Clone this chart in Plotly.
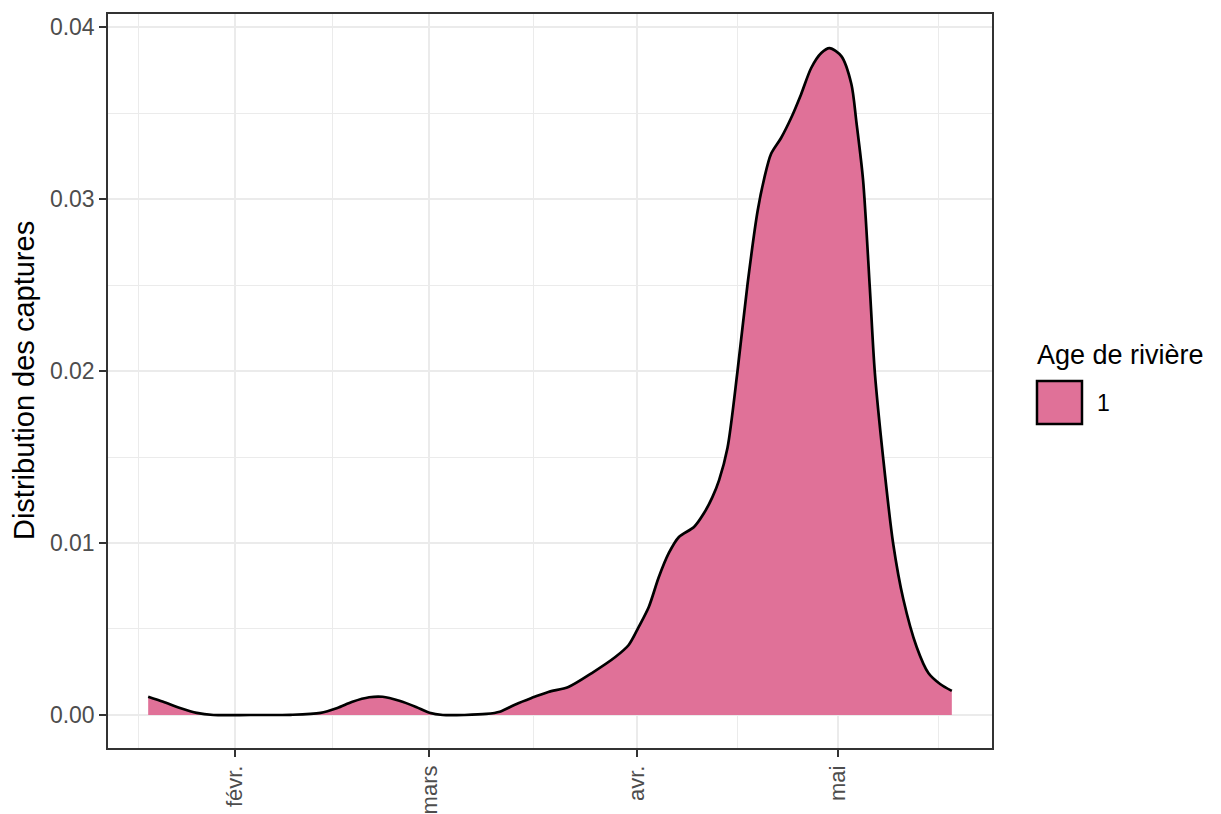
import plotly.graph_objects as go

# ---- data ----
capture_dates = [
    "2024-01-19 00:00", "2024-01-21 06:00", "2024-01-23 18:00", "2024-01-26 06:00",
    "2024-01-28 18:00", "2024-02-03 06:00", "2024-02-09 06:00", "2024-02-13 18:00",
    "2024-02-16 06:00", "2024-02-18 12:00", "2024-02-21 00:00", "2024-02-23 00:00",
    "2024-02-25 12:00", "2024-02-28 00:00", "2024-03-01 00:00", "2024-03-03 00:00",
    "2024-03-06 06:00", "2024-03-09 12:00", "2024-03-11 12:00", "2024-03-13 18:00",
    "2024-03-16 06:00", "2024-03-18 18:00", "2024-03-21 18:00", "2024-03-25 06:00",
    "2024-03-28 18:00", "2024-03-30 18:00", "2024-04-01 06:00", "2024-04-02 18:00",
    "2024-04-04 06:00", "2024-04-05 18:00", "2024-04-07 06:00", "2024-04-09 12:00",
    "2024-04-11 00:00", "2024-04-12 06:00", "2024-04-13 06:00", "2024-04-14 12:00",
    "2024-04-16 00:00", "2024-04-17 12:00", "2024-04-19 00:00", "2024-04-20 00:00",
    "2024-04-21 00:00", "2024-04-22 12:00", "2024-04-24 00:00", "2024-04-25 12:00",
    "2024-04-27 00:00", "2024-04-28 12:00", "2024-04-29 18:00", "2024-05-01 12:00",
    "2024-05-03 00:00", "2024-05-03 18:00", "2024-05-04 18:00", "2024-05-05 18:00",
    "2024-05-06 12:00", "2024-05-07 18:00", "2024-05-09 06:00", "2024-05-10 18:00",
    "2024-05-12 18:00", "2024-05-14 12:00", "2024-05-16 06:00", "2024-05-18 00:00",
]
density = [
    0.00106, 0.00077, 0.00041, 0.00012,
    0.00000, 0.00000, 0.00001, 0.00012,
    0.00041, 0.00077, 0.00103, 0.00106,
    0.00083, 0.00047, 0.00013, 0.00000,
    0.00000, 0.00006, 0.00019, 0.00060,
    0.00099, 0.00134, 0.00163, 0.00244,
    0.00337, 0.00407, 0.00512, 0.00628,
    0.00802, 0.00942, 0.01035, 0.01093,
    0.01174, 0.01267, 0.01366, 0.01552,
    0.02000, 0.02506, 0.02930, 0.03122,
    0.03262, 0.03355, 0.03471, 0.03610,
    0.03762, 0.03849, 0.03878, 0.03831,
    0.03669, 0.03448, 0.03110, 0.02488,
    0.01994, 0.01494, 0.00994, 0.00674,
    0.00395, 0.00244, 0.00180, 0.00140,
]

month_ticks = ["2024-02-01", "2024-03-01", "2024-04-01", "2024-05-01"]
month_labels = ["févr.", "mars", "avr.", "mai"]
minor_x_ticks = ["2024-01-17 12:00", "2024-02-15 12:00", "2024-03-16 12:00",
                 "2024-04-16 00:00", "2024-05-16 00:00"]
y_ticks = [0.00, 0.01, 0.02, 0.03, 0.04]
y_labels = ["0.00", "0.01", "0.02", "0.03", "0.04"]
minor_y_ticks = [0.005, 0.015, 0.025, 0.035]

y_title = "Distribution des captures"
legend_title = "Age de rivière"
legend_label = "1"

FILL = "rgb(224,113,152)"
GRID = "#EBEBEB"
FONT = "Liberation Sans, Arial, sans-serif"

fig = go.Figure()
fig.add_trace(go.Scatter(
    x=capture_dates, y=density, mode="lines",
    line=dict(color="black", width=2.7, shape="spline", smoothing=0.8),
    fill="tozeroy", fillcolor=FILL, showlegend=False, hoverinfo="x+y",
))

# the page body adds an 8px offset, so the figure is 8px smaller on each axis
fig.update_layout(
    width=1213, height=806,
    margin=dict(l=100, r=229, t=6, b=66),
    paper_bgcolor="white", plot_bgcolor="white",
    font=dict(family=FONT, color="#4D4D4D"),
    xaxis=dict(
        type="date", range=["2024-01-13", "2024-05-24"], automargin=False,
        tickmode="array", tickvals=month_ticks, ticktext=month_labels,
        tickangle=-90, tickfont=dict(size=22, color="#4D4D4D", family=FONT),
        ticks="outside", ticklen=7, tickwidth=1.5, tickcolor="#333333",
        showgrid=True, gridcolor=GRID, gridwidth=2,
        minor=dict(tickmode="array", tickvals=minor_x_ticks, showgrid=True,
                   gridcolor=GRID, gridwidth=1, ticks=""),
        showline=True, linecolor="#333333", linewidth=1.5, mirror=True,
        zeroline=False, ticklabelstandoff=0,
    ),
    yaxis=dict(
        range=[-0.00192, 0.04076], automargin=False,
        tickmode="array", tickvals=y_ticks, ticktext=y_labels,
        tickfont=dict(size=23, color="#4D4D4D", family=FONT),
        ticks="outside", ticklen=7, tickwidth=1.5, tickcolor="#333333",
        showgrid=True, gridcolor=GRID, gridwidth=2,
        minor=dict(tickmode="array", tickvals=minor_y_ticks, showgrid=True,
                   gridcolor=GRID, gridwidth=1, ticks=""),
        showline=True, linecolor="#333333", linewidth=1.5, mirror=True,
        zeroline=False, ticklabelstandoff=0,
    ),
)

# y-axis title
fig.add_annotation(
    text=y_title, xref="paper", yref="paper", x=-0.095, y=0.5,
    textangle=-90, showarrow=False, xanchor="center", yanchor="middle",
    font=dict(size=29, color="black", family=FONT),
)

# manual legend (large ggplot-style key)
fig.add_annotation(
    text=legend_title, xref="paper", yref="paper", x=1.0485, y=0.5354,
    showarrow=False, xanchor="left", yanchor="middle",
    font=dict(size=27, color="black", family=FONT),
)
fig.add_shape(
    type="rect", xref="paper", yref="paper",
    x0=1.0509, x1=1.1018, y0=0.4414, y1=0.5,
    fillcolor=FILL, line=dict(color="black", width=2.5),
)
fig.add_annotation(
    text=legend_label, xref="paper", yref="paper", x=1.1165, y=0.4707,
    showarrow=False, xanchor="left", yanchor="middle",
    font=dict(size=23, color="black", family=FONT),
)

fig.write_html("out.html")
